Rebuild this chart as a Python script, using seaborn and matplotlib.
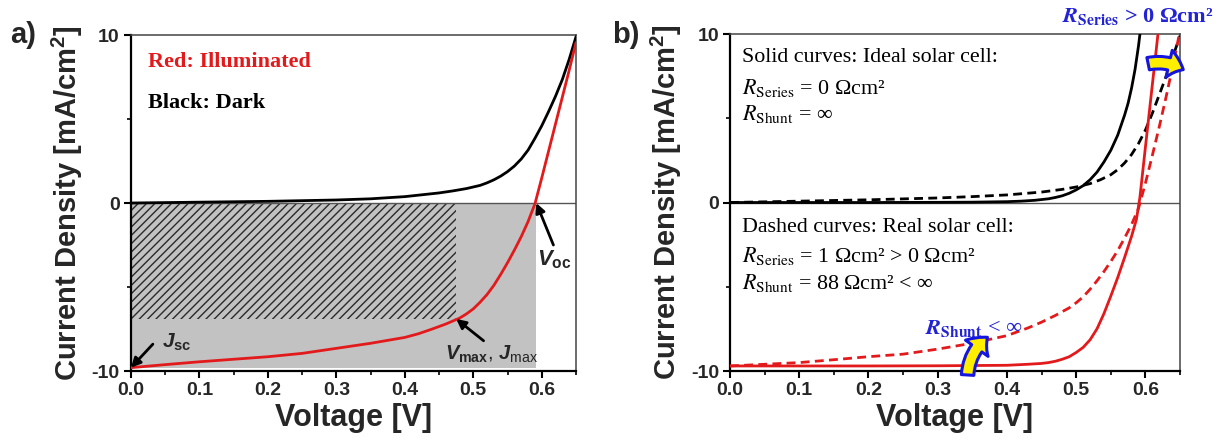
import matplotlib
matplotlib.use("Agg")
import matplotlib.pyplot as plt
import seaborn as sns
import pandas as pd
from matplotlib.patches import FancyArrowPatch
from matplotlib.ticker import MultipleLocator, FixedLocator

# ---- panel a: illuminated and dark J-V curves ----
v_light = [0.00, 0.05, 0.10, 0.15, 0.20, 0.25, 0.30, 0.35, 0.40, 0.42, 0.44, 0.46,
           0.48, 0.49, 0.50, 0.51, 0.52, 0.53, 0.54, 0.55, 0.56, 0.57, 0.58, 0.59,
           0.60, 0.61, 0.62, 0.63, 0.64, 0.65]
j_light = [-9.80, -9.62, -9.45, -9.30, -9.15, -8.95, -8.65, -8.35, -8.00, -7.78, -7.50, -7.20,
           -6.85, -6.60, -6.30, -5.90, -5.45, -4.90, -4.25, -3.55, -2.80, -2.00, -1.10, -0.05,
           1.50, 3.10, 4.70, 6.30, 7.90, 9.55]

v_dark = [0.00, 0.10, 0.20, 0.30, 0.35, 0.40, 0.45, 0.47, 0.49, 0.51, 0.52, 0.53,
          0.54, 0.55, 0.56, 0.57, 0.58, 0.59, 0.60, 0.61, 0.62, 0.63, 0.64, 0.65]
j_dark = [0.00, 0.05, 0.10, 0.18, 0.25, 0.38, 0.60, 0.72, 0.86, 1.05, 1.20, 1.38,
          1.60, 1.87, 2.20, 2.62, 3.15, 3.85, 4.60, 5.45, 6.35, 7.35, 8.55, 9.90]

# characteristic points of the illuminated cell
jsc = -9.8
voc = 0.592
vmax = 0.475
jmax = -6.9

# ---- panel b: ideal (solid) and real (dashed) cells ----
v_ideal_dark = [0.00, 0.10, 0.20, 0.30, 0.35, 0.40, 0.42, 0.44, 0.46, 0.47, 0.48, 0.49,
                0.50, 0.51, 0.52, 0.53, 0.54, 0.55, 0.56, 0.57, 0.575, 0.58, 0.585, 0.59, 0.595]
j_ideal_dark = [0.00, 0.00, 0.00, 0.01, 0.02, 0.05, 0.08, 0.13, 0.22, 0.30, 0.40, 0.55,
                0.75, 1.00, 1.35, 1.80, 2.40, 3.10, 4.00, 5.20, 5.90, 6.80, 7.90, 9.30, 11.0]

v_real_dark = [0.00, 0.10, 0.20, 0.30, 0.35, 0.40, 0.45, 0.48, 0.50, 0.52, 0.535, 0.55,
               0.56, 0.57, 0.58, 0.59, 0.60, 0.61, 0.62, 0.63, 0.64, 0.65]
j_real_dark = [0.00, 0.08, 0.16, 0.27, 0.35, 0.45, 0.62, 0.78, 0.92, 1.12, 1.35, 1.65,
               1.95, 2.35, 2.85, 3.50, 4.30, 5.30, 6.40, 7.50, 8.70, 9.90]

v_ideal_light = [0.00, 0.10, 0.20, 0.30, 0.40, 0.43, 0.45, 0.46, 0.47, 0.48, 0.49, 0.50,
                 0.51, 0.52, 0.53, 0.54, 0.55, 0.56, 0.57, 0.58, 0.587, 0.592, 0.60,
                 0.61, 0.62]
j_ideal_light = [-9.70, -9.70, -9.70, -9.69, -9.66, -9.60, -9.55, -9.50, -9.42, -9.30, -9.15, -8.90,
                 -8.60, -8.15, -7.50, -6.60, -5.55, -4.45, -3.25, -2.00, -1.00, 0.30, 3.30,
                 7.00, 10.7]

v_real_light = [0.00, 0.05, 0.10, 0.15, 0.20, 0.25, 0.30, 0.35, 0.40, 0.43, 0.45, 0.47,
                0.49, 0.50, 0.51, 0.52, 0.53, 0.54, 0.55, 0.56, 0.57, 0.58, 0.59, 0.60,
                0.61, 0.62, 0.63, 0.64, 0.65]
j_real_light = [-9.70, -9.60, -9.50, -9.33, -9.15, -9.00, -8.70, -8.35, -7.90, -7.45, -7.10, -6.70,
                -6.25, -5.95, -5.60, -5.15, -4.65, -4.10, -3.50, -2.85, -2.10, -1.30, -0.35, 1.15,
                2.80, 4.50, 6.30, 8.20, 10.2]

x_ticks = [0.0, 0.1, 0.2, 0.3, 0.4, 0.5, 0.6]
x_tick_labels = ["0.0", "0.1", "0.2", "0.3", "0.4", "0.5", "0.6"]
y_ticks = [-10, 0, 10]
y_tick_labels = ["-10", "0", "10"]

RED = "#e31a1c"
BLUE = "#2323d6"
GRAY_FILL = "#c2c2c2"
SERIF = ["Liberation Serif", "DejaVu Serif"]

sns.set_theme(style="ticks")
plt.rcParams.update({
    "font.family": ["Liberation Sans", "DejaVu Sans"],
    "axes.unicode_minus": False,
    "mathtext.fontset": "custom",
    "mathtext.rm": "Liberation Sans:bold",
    "mathtext.it": "Liberation Sans:italic:bold",
    "mathtext.bf": "Liberation Sans:bold",
    "mathtext.sf": "Liberation Sans",
    "hatch.linewidth": 1.0,
})

fig = plt.figure(figsize=(12.24, 4.41), dpi=100)
ax_a = fig.add_axes([0.1070, 0.1587, 0.3636, 0.7619])
ax_b = fig.add_axes([0.5964, 0.1587, 0.3677, 0.7642])


def style_axes(ax):
    ax.set_xlim(0, 0.65)
    ax.set_ylim(-10, 10)
    ax.xaxis.set_major_locator(FixedLocator(x_ticks))
    ax.set_xticklabels(x_tick_labels)
    ax.xaxis.set_minor_locator(MultipleLocator(0.05))
    ax.yaxis.set_major_locator(FixedLocator(y_ticks))
    ax.set_yticklabels(y_tick_labels)
    ax.yaxis.set_minor_locator(MultipleLocator(5))
    ax.tick_params(which="major", direction="out", length=5, width=1.5,
                   labelsize=14, pad=3, color="black")
    ax.tick_params(which="minor", direction="out", length=3, width=1.2, color="black")
    for lab in ax.get_xticklabels() + ax.get_yticklabels():
        lab.set_fontweight("bold")
    for side in ("left", "bottom"):
        ax.spines[side].set_linewidth(1.6)
        ax.spines[side].set_color("black")
    for side in ("top", "right"):
        ax.spines[side].set_linewidth(1.1)
        ax.spines[side].set_color("#444444")
    ax.axhline(0, color="#555555", lw=1.0, zorder=2)


def label_axes(ax):
    ax.set_xlabel("Voltage [V]", fontsize=22, fontweight="bold", labelpad=3)
    ax.set_ylabel("Current Density [mA/cm$^2$]", fontsize=21, fontweight="bold", labelpad=5)


# ---------------- panel a ----------------
style_axes(ax_a)
ax_a.fill_between([0, voc], [jsc, jsc], [0, 0], facecolor=GRAY_FILL, lw=0, zorder=1)
ax_a.fill_between([0, vmax], [jmax, jmax], [0, 0], facecolor="none",
                  edgecolor="#2a2a2a", hatch="////", lw=0, zorder=1.5)

df_dark = pd.DataFrame({"V": v_dark, "J": j_dark})
df_light = pd.DataFrame({"V": v_light, "J": j_light})
sns.lineplot(data=df_dark, x="V", y="J", ax=ax_a, color="black", lw=2.0,
             sort=False, estimator=None, zorder=3)
sns.lineplot(data=df_light, x="V", y="J", ax=ax_a, color=RED, lw=2.0,
             sort=False, estimator=None, zorder=3)
label_axes(ax_a)

ax_a.text(0.025, 8.4, "Red: Illuminated", color=RED, fontsize=16, fontweight="bold",
          family=SERIF, va="center", ha="left")
ax_a.text(0.025, 5.95, "Black: Dark", color="black", fontsize=16, fontweight="bold",
          family=SERIF, va="center", ha="left")

arrow_kw = dict(arrowstyle="-|>", color="black", lw=2.0, mutation_scale=14,
                shrinkA=0, shrinkB=0)
ax_a.annotate("", xy=(voc, 0), xytext=(0.617, -2.5), arrowprops=arrow_kw, zorder=4)
ax_a.annotate("", xy=(vmax, jmax), xytext=(0.515, -8.2), arrowprops=arrow_kw, zorder=4)
ax_a.annotate("", xy=(0.0, jsc), xytext=(0.032, -8.4), arrowprops=arrow_kw, zorder=4)

ax_a.text(0.593, -3.4, r"$V_{\mathbf{oc}}$", fontsize=16, va="center", ha="left")
ax_a.text(0.458, -9.0, r"$V_{\mathbf{max}}$, $J_{\mathsf{max}}$", fontsize=14.5,
          va="center", ha="left")
ax_a.text(0.045, -8.3, r"$J_{\mathbf{sc}}$", fontsize=15, va="center", ha="left")

fig.text(0.008, 0.92, "a)", fontsize=21, fontweight="bold", va="center", ha="left")

# ---------------- panel b ----------------
style_axes(ax_b)
dash = (3.2, 1.9)
for v, j, col, dashed in [
    (v_ideal_dark, j_ideal_dark, "black", False),
    (v_real_dark, j_real_dark, "black", True),
    (v_ideal_light, j_ideal_light, RED, False),
    (v_real_light, j_real_light, RED, True),
]:
    df = pd.DataFrame({"V": v, "J": j})
    line = sns.lineplot(data=df, x="V", y="J", ax=ax_b, color=col, lw=2.0,
                        sort=False, estimator=None, zorder=3).lines[-1]
    if dashed:
        line.set_dashes(dash)
label_axes(ax_b)

serif_kw = dict(fontsize=15.8, fontweight="normal", family=SERIF, math_fontfamily="stix",
                va="center", ha="left", color="black")
ax_b.text(0.018, 8.6, "Solid curves: Ideal solar cell:", **serif_kw)
ax_b.text(0.018, 6.8, r"$R_{\mathrm{Series}}$ = 0 Ωcm²", **serif_kw)
ax_b.text(0.018, 5.25, r"$R_{\mathrm{Shunt}}$ = ∞", **serif_kw)
ax_b.text(0.018, -1.5, "Dashed curves: Real solar cell:", **serif_kw)
ax_b.text(0.018, -3.15, r"$R_{\mathrm{Series}}$ = 1 Ωcm² > 0 Ωcm²", **serif_kw)
ax_b.text(0.018, -4.75, r"$R_{\mathrm{Shunt}}$ = 88 Ωcm² < ∞", **serif_kw)

blue_kw = dict(fontsize=16, fontweight="bold", family=SERIF, math_fontfamily="stix",
               va="center", ha="left", color=BLUE)
ax_b.text(0.480, 11.05, r"$\mathbfit{R}_{\mathbf{Series}}$ > 0 Ωcm²", clip_on=False, **blue_kw)
ax_b.text(0.281, -7.45, r"$\mathbfit{R}_{\mathbf{Shunt}}$", **blue_kw)
ax_b.text(0.372, -7.45, "< ∞", **dict(blue_kw, fontweight="normal"))

fat = "simple,head_length=11,head_width=20,tail_width=9"
ax_b.add_patch(FancyArrowPatch((0.600, 8.2), (0.658, 7.8), arrowstyle=fat,
                               connectionstyle="arc3,rad=-0.22", mutation_scale=1,
                               facecolor="#ffee00", edgecolor="#1515e0", lw=2.2,
                               clip_on=False, zorder=5))
ax_b.add_patch(FancyArrowPatch((0.343, -10.4), (0.375, -7.9), arrowstyle=fat,
                               connectionstyle="arc3,rad=-0.25", mutation_scale=1,
                               facecolor="#ffee00", edgecolor="#1515e0", lw=2.2,
                               clip_on=False, zorder=5))

fig.text(0.500, 0.92, "b)", fontsize=21, fontweight="bold", va="center", ha="left")

fig.savefig("out.png", dpi=100)
